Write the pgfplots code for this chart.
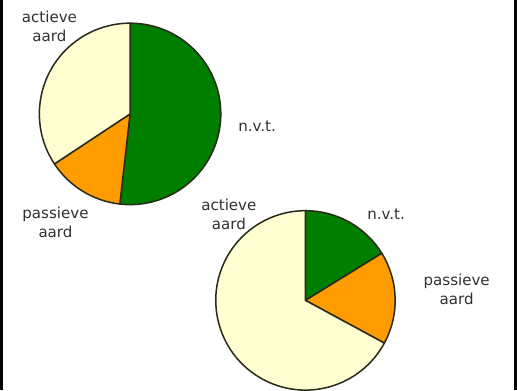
\documentclass[border=0pt]{standalone}
\usepackage{pgfplots}
\pgfplotsset{compat=1.18}
\usepackage{fontspec}
\setmainfont{DejaVu Sans}
\definecolor{pgreen}{HTML}{007E00}
\definecolor{porange}{HTML}{FF9C00}
\definecolor{pyellow}{HTML}{FFFFD2}
\definecolor{pline}{HTML}{2A2A1A}
\definecolor{ptext}{HTML}{303030}
\begin{document}
\begin{tikzpicture}
\begin{axis}[
  width=517bp, height=387bp, scale only axis,
  xmin=0, xmax=517, ymin=0, ymax=387,
  hide axis, clip=true,
]
% labels
\tikzset{lbl/.style={font=\fontsize{15}{19}\selectfont, text=ptext, align=center, inner sep=0pt}}
\node[lbl] at (axis cs:52,360.5) {actieve\\aard};
\node[lbl] at (axis cs:58,166.5) {passieve\\aard};
\node[lbl] at (axis cs:258,262) {n.v.t.};
\node[lbl] at (axis cs:230,174) {actieve\\aard};
\node[lbl] at (axis cs:386,174) {n.v.t.};
\node[lbl] at (axis cs:456,99.5) {passieve\\aard};
\pgfplotsextra{%
% pie 1 : n.v.t., passieve aard, actieve aard (percent)
\gdef\cumA{90}%
\foreach \pct/\col in {51.8/pgreen, 13.9/porange, 34.3/pyellow} {
  \pgfmathsetmacro\angE{\cumA-3.6*\pct}
  \filldraw[fill=\col, draw=pline, line width=1.5bp, line join=round]
    (axis cs:132,274) -- ++(\cumA:90bp) arc[start angle=\cumA, end angle=\angE, radius=90bp] -- cycle;
  \xdef\cumA{\angE}
}%
% pie 2
\gdef\cumB{90}%
\foreach \pct/\col in {16.2/pgreen, 16.7/porange, 67.1/pyellow} {
  \pgfmathsetmacro\angE{\cumB-3.6*\pct}
  \filldraw[fill=\col, draw=pline, line width=1.5bp, line join=round]
    (axis cs:306,89) -- ++(\cumB:89bp) arc[start angle=\cumB, end angle=\angE, radius=89bp] -- cycle;
  \xdef\cumB{\angE}
}%
}
% frame sides
\draw[black, line width=2.5bp] (axis cs:4.2,0) -- (axis cs:4.2,387);
\draw[black, line width=2.5bp] (axis cs:514.6,0) -- (axis cs:514.6,387);
\end{axis}
\end{tikzpicture}
\end{document}
